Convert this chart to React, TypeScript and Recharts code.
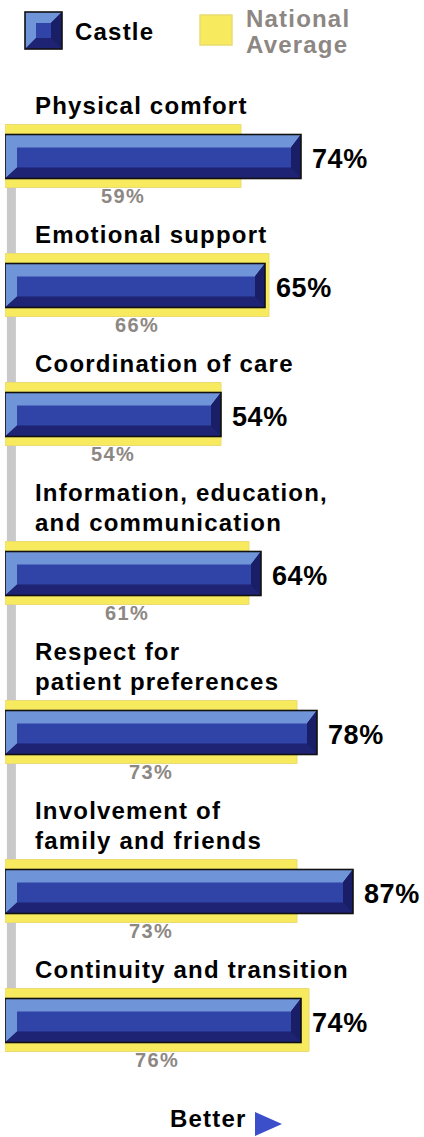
import React from 'react';
import { BarChart, Bar, XAxis, YAxis, Legend, LabelList, Label, ReferenceLine } from 'recharts';

// ---- data ----
const categories = [
  'Physical comfort',
  'Emotional support',
  'Coordination of care',
  'Information, education,\nand communication',
  'Respect for\npatient preferences',
  'Involvement of\nfamily and friends',
  'Continuity and transition',
];
const castleScores = [74, 65, 54, 64, 78, 87, 74];
const nationalScores = [59, 66, 54, 61, 73, 73, 76];
const seriesNames = ['Castle', 'National Average'];
const footerText = 'Better';

// ---- layout helpers (derived, not data) ----
const FONT = '"Liberation Sans", Arial, Helvetica, sans-serif';
const LINE = 30; // px per vertical unit (one text line)
const GROUP_BASE = 3.3; // units taken by a bar group besides its title lines
const FIRST_POS = 3;
const Y_UNITS = 34;
const RAIL_X = 1.6;

const lineCounts = categories.map((c) => c.split('\n').length);
const positions: number[] = [];
lineCounts.forEach((n, i) => {
  positions.push(i === 0 ? FIRST_POS : +(positions[i - 1] + GROUP_BASE + n).toFixed(2));
});

const data = categories.map((name, i) => ({
  name,
  pos: positions[i],
  castle: castleScores[i],
  national: nationalScores[i],
}));

const C_LIGHT = '#7094d8';
const C_MAIN = '#3043a6';
const C_DARK = '#1e2373';
const C_DARK_END = '#1a1e66';
const YELLOW = '#f7ea5e';
const YELLOW_EDGE = '#eadb72';
const GRAY_TEXT = '#8d8783';

const bevelShape = (x: number, y: number, w: number, h: number, bt: number, bb: number, bl: number, br: number, key?: string) => (
  <g key={key}>
    <rect x={x} y={y} width={w} height={h} fill={C_MAIN} />
    <polygon
      points={`${x},${y} ${x + w},${y} ${x + w - br},${y + bt} ${x + bl},${y + bt} ${x + bl},${y + h - bb} ${x},${y + h}`}
      fill={C_LIGHT}
    />
    <polygon
      points={`${x},${y + h} ${x + bl},${y + h - bb} ${x + w - br},${y + h - bb} ${x + w - br},${y + bt} ${x + w},${y} ${x + w},${y + h}`}
      fill={C_DARK}
    />
    <polygon
      points={`${x + w - br},${y + bt} ${x + w},${y} ${x + w},${y + h} ${x + w - br},${y + h - bb}`}
      fill={C_DARK_END}
    />
    <rect x={x} y={y} width={w} height={h} fill="none" stroke="#111" strokeWidth={1.6} />
  </g>
);

const CastleShape = (props: any) => {
  const { x, y, width, height } = props;
  if (!width || width <= 0) return null;
  return bevelShape(+x, +y, +width, +height, 13, 11, 12, 10);
};

const CategoryTitle = (props: any) => {
  const x = Number(props.x);
  const y = Number(props.y);
  const lines = String(props.value).split('\n');
  const first = y - 11 - LINE * (lines.length - 1);
  return (
    <text x={x + 30} y={first} fontFamily={FONT} fontWeight="bold" fontSize={24} letterSpacing={1.2} fill="#000">
      {lines.map((l, k) => (
        <tspan key={k} x={x + 30} dy={k === 0 ? 0 : LINE}>
          {l}
        </tspan>
      ))}
    </text>
  );
};

const NationalValue = (props: any) => {
  const x = Number(props.x);
  const y = Number(props.y);
  const w = Number(props.width);
  const h = Number(props.height);
  return (
    <text x={x + w / 2} y={y + h + 15} textAnchor="middle" fontFamily={FONT} fontWeight="bold" fontSize={20} letterSpacing={1.3} fill={GRAY_TEXT}>
      {`${props.value}%`}
    </text>
  );
};

const CastleValue = (props: any) => {
  const x = Number(props.x);
  const y = Number(props.y);
  const w = Number(props.width);
  const h = Number(props.height);
  return (
    <text x={x + w + 11} y={y + h / 2 + 11} fontFamily={FONT} fontWeight="bold" fontSize={27} letterSpacing={0.6} fill="#000">
      {`${props.value}%`}
    </text>
  );
};

const LegendContent = () => (
  <svg width={424} height={60} style={{ display: 'block' }}>
    {bevelShape(25, 12, 37, 37, 11, 11, 11, 11)}
    <text x={75} y={40} fontFamily={FONT} fontWeight="bold" fontSize={24} letterSpacing={1.2} fill="#000">
      {seriesNames[0]}
    </text>
    <rect x={200} y={15} width={32} height={30} fill={YELLOW} stroke={YELLOW_EDGE} strokeWidth={1.5} />
    <text x={246} y={27} fontFamily={FONT} fontWeight="bold" fontSize={24} letterSpacing={1.2} fill={GRAY_TEXT}>
      {seriesNames[1].split(' ')[0]}
    </text>
    <text x={246} y={53} fontFamily={FONT} fontWeight="bold" fontSize={24} letterSpacing={1.2} fill={GRAY_TEXT}>
      {seriesNames[1].split(' ')[1]}
    </text>
  </svg>
);

const BetterLabel = (props: any) => {
  const vb = props.viewBox || {};
  const x0 = Number(vb.x);
  const y0 = Number(vb.y);
  return (
    <g>
      <text x={x0 + 165} y={y0 + 41} fontFamily={FONT} fontWeight="bold" fontSize={24} letterSpacing={1.2} fill="#000">
        {footerText}
      </text>
      <polygon points={`${x0 + 250},${y0 + 26} ${x0 + 277},${y0 + 38} ${x0 + 250},${y0 + 50}`} fill="#3a4fc9" />
    </g>
  );
};

export default function App() {
  return (
    <div style={{ position: 'absolute', left: 0, top: 0, width: 424, height: 1137, background: '#fff' }}>
      <BarChart
        width={424}
        height={1137}
        data={data}
        layout="vertical"
        margin={{ top: 6, right: 19, bottom: 0, left: 5 }}
      >
        <Legend
          verticalAlign="top"
          align="left"
          content={<LegendContent />}
          wrapperStyle={{ top: 0, left: 0, width: 424, height: 60 }}
        />
        <XAxis
          type="number"
          domain={[0, 100]}
          allowDataOverflow
          axisLine={false}
          tickLine={false}
          tick={false}
          height={51}
        >
          <Label content={<BetterLabel />} />
        </XAxis>
        <YAxis yAxisId="nat" type="number" dataKey="pos" domain={[0, Y_UNITS]} allowDataOverflow hide />
        <YAxis yAxisId="cas" type="number" dataKey="pos" domain={[0, Y_UNITS]} allowDataOverflow hide />
        <ReferenceLine
          yAxisId="nat"
          segment={[
            { x: RAIL_X, y: positions[0] },
            { x: RAIL_X, y: positions[positions.length - 1] },
          ]}
          stroke="#c9c9c9"
          strokeWidth={9}
          {...({ zIndex: -1 } as any)}
        />
        <Bar
          yAxisId="nat"
          dataKey="national"
          name={seriesNames[1]}
          barSize={63}
          fill={YELLOW}
          stroke={YELLOW_EDGE}
          strokeWidth={1}
          isAnimationActive={false}
        >
          <LabelList dataKey="name" content={<CategoryTitle />} />
          <LabelList dataKey="national" content={<NationalValue />} />
        </Bar>
        <Bar
          yAxisId="cas"
          dataKey="castle"
          name={seriesNames[0]}
          barSize={44}
          fill={C_MAIN}
          shape={<CastleShape />}
          isAnimationActive={false}
        >
          <LabelList dataKey="castle" content={<CastleValue />} />
        </Bar>
      </BarChart>
    </div>
  );
}
